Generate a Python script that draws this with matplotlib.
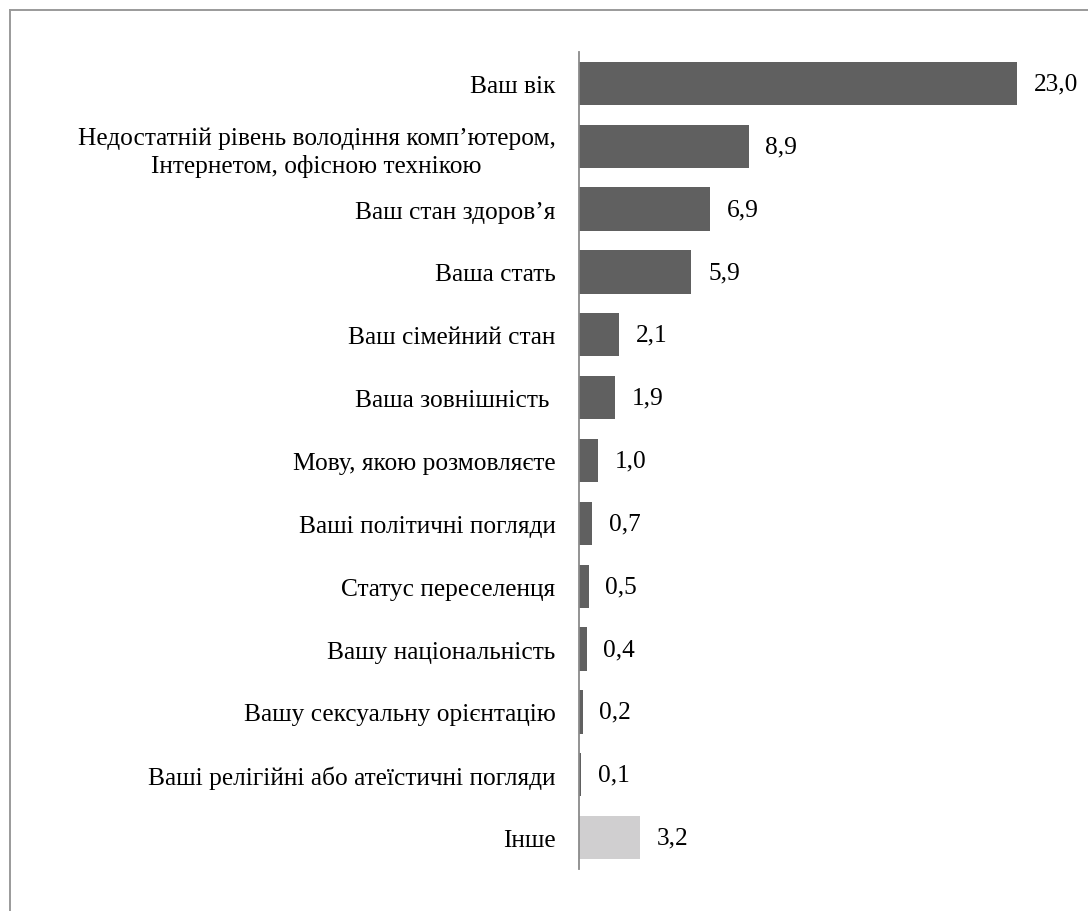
import matplotlib
matplotlib.use("Agg")
import matplotlib.pyplot as plt

categories = [
    "Ваш вік",
    "Недостатній рівень володіння комп’ютером,\nІнтернетом, офісною технікою",
    "Ваш стан здоров’я",
    "Ваша стать",
    "Ваш сімейний стан",
    "Ваша зовнішність ",
    "Мову, якою розмовляєте",
    "Ваші політичні погляди",
    "Статус переселенця",
    "Вашу національність",
    "Вашу сексуальну орієнтацію",
    "Ваші релігійні або атеїстичні погляди",
    "Інше",
]
values = [23.0, 8.9, 6.9, 5.9, 2.1, 1.9, 1.0, 0.7, 0.5, 0.4, 0.2, 0.1, 3.2]
value_labels = ["23,0", "8,9", "6,9", "5,9", "2,1", "1,9", "1,0",
                "0,7", "0,5", "0,4", "0,2", "0,1", "3,2"]

main_color = "#606060"
other_color = "#d0cfd0"
colors = [main_color] * (len(values) - 1) + [other_color]

plt.rcParams["font.family"] = ["Liberation Serif", "DejaVu Serif"]
FS = 18.3

W, H = 1088, 912
fig = plt.figure(figsize=(W / 100, H / 100), dpi=100)

# outer frame (open on the right and bottom edges)
frame_color = "#9a9a9a"
fig.add_artist(plt.Line2D([10 / W, 10 / W], [0, 1 - 11 / H],
                          transform=fig.transFigure, color=frame_color, lw=1.4))
fig.add_artist(plt.Line2D([10 / W, 1], [1 - 11 / H, 1 - 11 / H],
                          transform=fig.transFigure, color=frame_color, lw=1.4))

ax_left, ax_right = 579 / W, 1080 / W
ax_top, ax_bottom = 1 - 53 / H, 1 - 870 / H
ax = fig.add_axes([ax_left, ax_bottom, ax_right - ax_left, ax_top - ax_bottom])

y = list(range(len(values)))
ax.barh(y, values, height=0.69, color=colors, edgecolor="none")

ax.set_xlim(0, (1080 - 579) / 19.05)
ax.set_ylim(len(values) - 0.5, -0.5)

for spine in ("top", "right", "bottom"):
    ax.spines[spine].set_visible(False)
ax.spines["left"].set_color("#8a8a8a")
ax.spines["left"].set_linewidth(1.3)

ax.set_xticks([])
ax.set_yticks(y)
ax.set_yticklabels(categories, fontsize=FS, multialignment="center",
                   linespacing=1.3)
ax.tick_params(axis="y", length=0, pad=17)

for yi, v, lab in zip(y, values, value_labels):
    ax.annotate(lab, (v, yi), xytext=(12, 0), textcoords="offset points",
                ha="left", va="center", fontsize=FS, color="black")

fig.savefig("out.png", dpi=100, facecolor="white")
